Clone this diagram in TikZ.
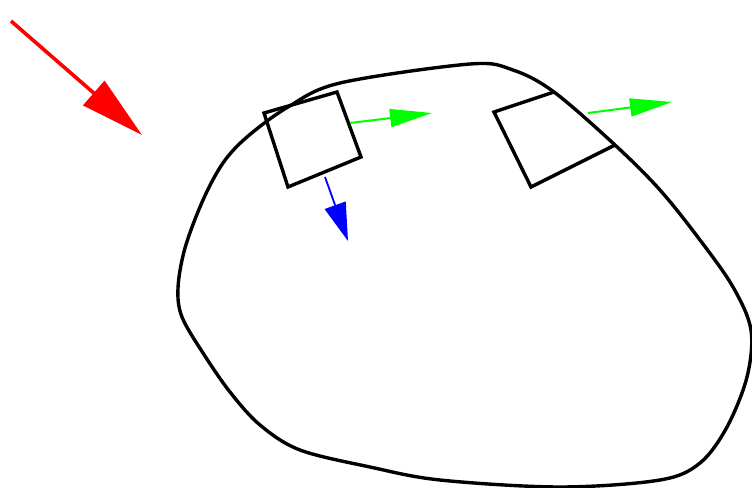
\documentclass[tikz,border=0pt]{standalone}
\usepackage{xcolor}
\usepackage{tikz}
\usetikzlibrary{arrows.meta, calc}
\definecolor{fgreen}{HTML}{00FF00}
\definecolor{fblue}{HTML}{0000FF}
\definecolor{fred}{HTML}{FF0000}

\tikzset{
    body/.style={line width=1.7pt, line join=round},
    square/.style={line width=1.7pt, line join=miter},
    flux/.style={-{Triangle[length=21pt, width=9pt]}, line width=1pt, fgreen},
    normalvec/.style={-{Triangle[length=19pt, width=11pt]}, line width=0.9pt, fblue},
    load/.style={-{Triangle[length=32pt, width=16pt]}, line width=1.8pt, fred}
}

\begin{document}
\begin{tikzpicture}[x=0.5pt, y=-0.5pt]
    \useasboundingbox (0,0) rectangle (752,488);

    % the body
    \draw[body] plot[smooth cycle, tension=0.55] coordinates {
        (178,288) (185,248) (203,200) (223,163) (247,137) (288,107)
        (340,83) (470,64) (513,70) (554,92) (615,145) (660,190)
        (700,240) (733,287) (751,330) (747,377) (727,427) (700,463)
        (660,480) (560,487) (440,480) (370,467) (300,450) (260,425)
        (230,392) (203,353) (182,317)};

    % element inside
    \coordinate (a1) at (264,113);
    \coordinate (a2) at (337,92);
    \coordinate (a3) at (361,157);
    \coordinate (a4) at (288,187);
    \draw[square] (a1) -- (a2) -- (a3) -- (a4) -- cycle;

    % element on the boundary
    \coordinate (b1) at (554,92);
    \coordinate (b2) at (494,112);
    \coordinate (b3) at (531,187);
    \coordinate (b4) at (615,145);
    \draw[square] (b1) -- (b2) -- (b3) -- (b4);

    % vectors
    \coordinate (f1s) at (350,123);
    \coordinate (f1e) at (432,113);
    \coordinate (f2s) at (588,113);
    \coordinate (f2e) at (672,102);
    \coordinate (ns) at (325,177);
    \coordinate (ne) at (348,241);
    \coordinate (ls) at (11,21);
    \coordinate (le) at (142,135);

    \draw[flux] (f1s) -- (f1e);
    \draw[flux] (f2s) -- (f2e);
    \draw[normalvec] (ns) -- (ne);
    \draw[load] (ls) -- (le);
\end{tikzpicture}
\end{document}
